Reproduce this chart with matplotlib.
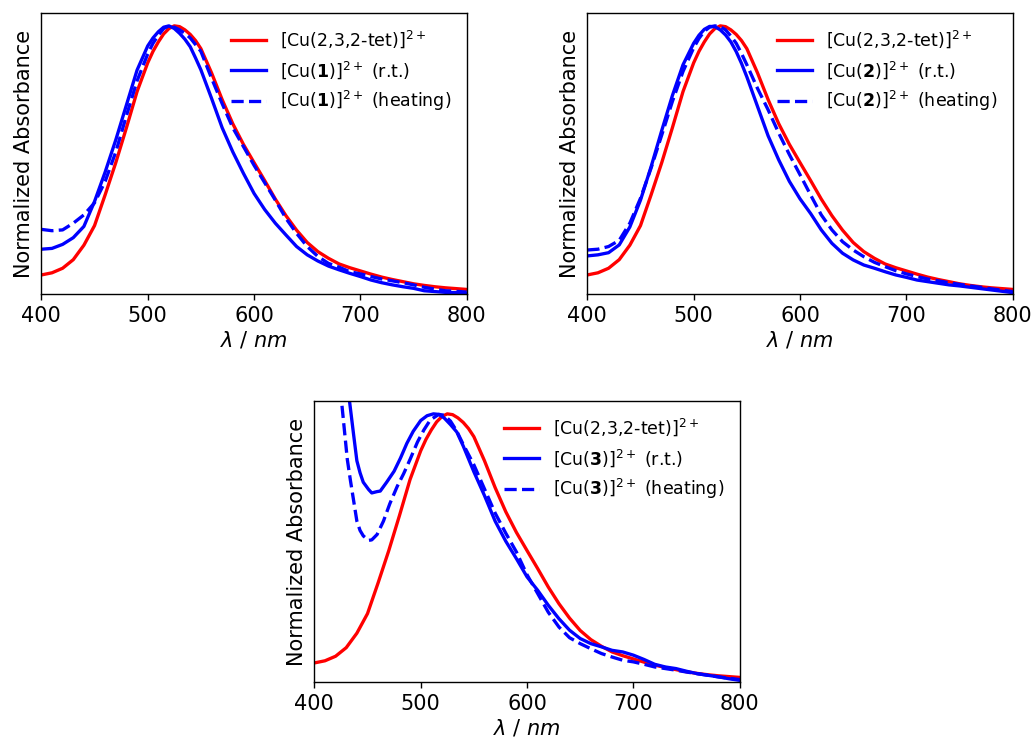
import matplotlib
matplotlib.use("Agg")
import matplotlib.pyplot as plt

# ---------------- data ----------------
wl = [400, 410, 420, 430, 440, 450, 460, 470, 480, 490, 500, 505, 510, 515, 520,
      525, 530, 535, 540, 545, 550, 560, 570, 580, 590, 600, 610, 620, 630, 640,
      650, 660, 670, 680, 690, 700, 710, 720, 730, 740, 750, 760, 770, 780, 790, 800]

red_ref = [0.071, 0.079, 0.096, 0.128, 0.182, 0.255, 0.37, 0.49, 0.62, 0.755, 0.862, 0.905,
           0.94, 0.97, 0.99, 1.0, 0.997, 0.985, 0.968, 0.945, 0.915, 0.825, 0.725, 0.635,
           0.558, 0.49, 0.423, 0.354, 0.292, 0.238, 0.192, 0.158, 0.133, 0.112, 0.098,
           0.086, 0.074, 0.063, 0.054, 0.046, 0.038, 0.032, 0.027, 0.023, 0.02, 0.017]

blue1_rt = [0.167, 0.17, 0.185, 0.21, 0.252, 0.345, 0.455, 0.575, 0.705, 0.835, 0.925, 0.955,
            0.978, 0.995, 1.0, 0.99, 0.972, 0.95, 0.922, 0.88, 0.836, 0.73, 0.62, 0.53,
            0.45, 0.375, 0.315, 0.264, 0.22, 0.177, 0.146, 0.123, 0.104, 0.09, 0.077,
            0.065, 0.052, 0.042, 0.034, 0.027, 0.021, 0.012, 0.009, 0.006, 0.005, 0.003]

blue1_heat = [0.241, 0.236, 0.239, 0.264, 0.295, 0.34, 0.42, 0.53, 0.665, 0.795, 0.895,
              0.935, 0.965, 0.99, 1.0, 0.995, 0.985, 0.972, 0.955, 0.93, 0.905, 0.805,
              0.71, 0.62, 0.55, 0.48, 0.415, 0.35, 0.282, 0.226, 0.177, 0.14, 0.114,
              0.10, 0.083, 0.075, 0.065, 0.056, 0.049, 0.042, 0.034, 0.025, 0.018,
              0.012, 0.01, 0.007]

blue2_rt = [0.142, 0.146, 0.154, 0.183, 0.25, 0.35, 0.475, 0.61, 0.74, 0.855, 0.935, 0.965,
            0.987, 0.998, 0.997, 0.985, 0.966, 0.94, 0.904, 0.86, 0.81, 0.70, 0.59, 0.50,
            0.42, 0.355, 0.30, 0.239, 0.189, 0.152, 0.127, 0.108, 0.096, 0.083, 0.071,
            0.062, 0.052, 0.046, 0.04, 0.034, 0.03, 0.025, 0.02, 0.015, 0.01, 0.005]

blue2_heat = [0.164, 0.167, 0.177, 0.20, 0.264, 0.357, 0.47, 0.593, 0.718, 0.83, 0.918,
              0.953, 0.98, 0.995, 1.0, 0.997, 0.985, 0.962, 0.935, 0.897, 0.855, 0.767,
              0.687, 0.60, 0.52, 0.445, 0.369, 0.295, 0.239, 0.195, 0.164, 0.139, 0.118,
              0.102, 0.087, 0.075, 0.065, 0.056, 0.049, 0.042, 0.036, 0.03, 0.025,
              0.019, 0.014, 0.009]

wl3_rt = [430, 433, 437, 440, 443, 446, 451, 454, 459, 462, 468, 475, 481, 487, 493,
          500, 506, 512, 517, 522, 528, 534, 540, 550, 560, 570, 580, 590, 600, 610,
          620, 630, 640, 650, 660, 670, 680, 690, 700, 710, 720, 730, 740, 750, 760,
          770, 780, 790, 800]
blue3_rt = [1.16, 1.05, 0.92, 0.825, 0.78, 0.745, 0.718, 0.705, 0.71, 0.712, 0.745, 0.786,
            0.835, 0.89, 0.935, 0.975, 0.993, 1.0, 0.998, 0.985, 0.96, 0.932, 0.88, 0.784,
            0.695, 0.60, 0.525, 0.46, 0.392, 0.342, 0.286, 0.236, 0.193, 0.162, 0.143,
            0.131, 0.118, 0.112, 0.1, 0.084, 0.066, 0.056, 0.05, 0.04, 0.031, 0.025,
            0.019, 0.012, 0.006]

wl3_heat = [426, 428, 431, 434, 437, 440, 443, 446, 451, 454, 459, 465, 471, 478, 484,
            490, 497, 503, 509, 517, 522, 528, 534, 540, 550, 560, 570, 580, 590, 600,
            610, 620, 630, 640, 650, 660, 670, 680, 690, 700, 710, 720, 730, 740, 750,
            760, 770, 780, 790, 800]
blue3_heat = [1.03, 0.95, 0.83, 0.75, 0.675, 0.60, 0.565, 0.545, 0.528, 0.53, 0.55, 0.60,
              0.665, 0.73, 0.777, 0.83, 0.895, 0.94, 0.977, 0.998, 0.995, 0.973, 0.935,
              0.886, 0.81, 0.72, 0.63, 0.555, 0.485, 0.40, 0.33, 0.26, 0.205, 0.165,
              0.143, 0.124, 0.106, 0.093, 0.081, 0.075, 0.066, 0.056, 0.05, 0.044,
              0.037, 0.031, 0.025, 0.019, 0.014, 0.009]

x_ticks = [400, 500, 600, 700, 800]
ligands = ["1", "2", "3"]

# ---------------- figure ----------------
fig = plt.figure(figsize=(8.272, 5.936), dpi=125)

positions = [
    [0.040, 0.6038, 0.4114, 0.3787],
    [0.568, 0.6038, 0.4114, 0.3787],
    [0.304, 0.0809, 0.4114, 0.3787],
]

panels = [
    (wl, red_ref, wl, blue1_rt, wl, blue1_heat),
    (wl, red_ref, wl, blue2_rt, wl, blue2_heat),
    (wl, red_ref, wl3_rt, blue3_rt, wl3_heat, blue3_heat),
]

lw = 1.9
for pos, lig, (xr, yr, xb, yb, xh, yh) in zip(positions, ligands, panels):
    ax = fig.add_axes(pos)
    ax.plot(xr, yr, color="red", lw=lw, label=r"[Cu(2,3,2-tet)]$^{2+}$")
    ax.plot(xb, yb, color="blue", lw=lw,
            label=r"[Cu($\mathbf{%s}$)]$^{2+}$ (r.t.)" % lig)
    ax.plot(xh, yh, color="blue", lw=lw, ls="--",
            label=r"[Cu($\mathbf{%s}$)]$^{2+}$ (heating)" % lig)
    ax.set_xlim(400, 800)
    ax.set_ylim(0, 1.048)
    ax.set_xticks(x_ticks)
    ax.set_yticks([])
    ax.tick_params(axis="x", labelsize=12)
    ax.set_xlabel(r"$\lambda$ / $nm$", fontsize=12, labelpad=2)
    ax.set_ylabel("Normalized Absorbance", fontsize=12)
    ax.legend(loc="upper right", frameon=False, fontsize=10)

fig.savefig("out.png", dpi=125)
